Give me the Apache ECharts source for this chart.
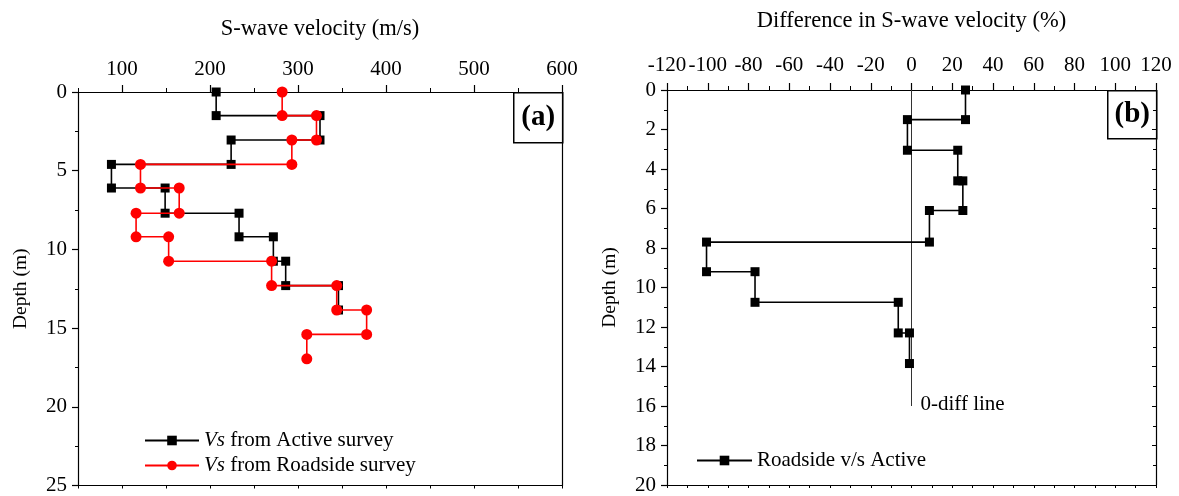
<!DOCTYPE html>
<html>
<head>
<meta charset="utf-8">
<script src="https://cdn.jsdelivr.net/npm/echarts@6/dist/echarts.min.js"></script>
<style>
  html, body { margin: 0; padding: 0; background: #fff; }
  #chart { width: 1179px; height: 496px; }
</style>
</head>
<body>
<div id="chart"></div>
<script>
// Layer boundaries shared by both surveys (m)
const activeDepth = [0, 1.5, 1.5, 3.05, 3.05, 4.6, 4.6, 6.1, 6.1, 7.7, 7.7, 9.2, 9.2, 10.75, 10.75, 12.3, 12.3, 13.85];
const activeVs    = [207, 207, 325, 325, 224, 224, 88, 88, 149, 149, 233, 233, 272, 272, 286, 286, 346, 346];

const roadDepth = [0, 1.5, 1.5, 3.05, 3.05, 4.6, 4.6, 6.1, 6.1, 7.7, 7.7, 9.2, 9.2, 10.75, 10.75, 12.3, 12.3, 13.85, 13.85, 15.4, 15.4, 16.95];
const roadVs    = [282, 282, 321, 321, 293, 293, 121, 121, 165, 165, 116, 116, 153, 153, 270, 270, 344, 344, 378, 378, 310, 310];

const diffDepth = [0, 1.5, 1.5, 3.05, 3.05, 4.6, 4.6, 6.1, 6.1, 7.7, 7.7, 9.2, 9.2, 10.75, 10.75, 12.3, 12.3, 13.85];
const diffPct   = [26.5, 26.5, -2, -2, 22.7, 22.7, 25.2, 25.2, 8.8, 8.8, -100.6, -100.6, -76.8, -76.8, -6.5, -6.5, -1, -1];

// Zero-difference reference line (x = 0 % from 0 to 16 m)
const zeroLineX = [0, 0];
const zeroLineDepth = [0, 16];

// Tick values
const vsMajorTicks = [100, 200, 300, 400, 500, 600];
const vsMinorTicks = [50, 150, 250, 350, 450, 550];

const names = {
  active: 'Vs from Active survey',
  road: 'Vs from Roadside survey',
  diff: 'Roadside v/s Active'
};

const zip = (xs, ys) => xs.map((x, i) => [x, ys[i]]);

const FONT = '"Liberation Serif", "Times New Roman", serif';
const BLACK = '#000';
const tickText = { color: BLACK, fontFamily: FONT, fontSize: 21 };
const titleText = { color: BLACK, fontFamily: FONT, fontSize: 22.5 };
const depthText = { color: BLACK, fontFamily: FONT, fontSize: 19.5 };

const chart = echarts.init(document.getElementById('chart'), null, { renderer: 'canvas' });

const hidden = { show: false };
const blackLine = { show: true, onZero: false, lineStyle: { color: BLACK, width: 1.2 } };

const option = {
  backgroundColor: '#fff',
  animation: false,
  grid: [
    { left: 78, top: 92, width: 484, height: 395, containLabel: false },
    { left: 667, top: 90, width: 489, height: 395, containLabel: false }
  ],
  xAxis: [
    // Panel (a) top axis: labels + major ticks
    {
      gridIndex: 0, type: 'value', position: 'top', min: 50, max: 600,
      axisLine: blackLine,
      axisTick: { show: true, length: 7, customValues: vsMajorTicks, lineStyle: { color: BLACK, width: 1.2 } },
      axisLabel: { ...tickText, margin: 12, customValues: vsMajorTicks },
      splitLine: hidden,
      name: 'S-wave velocity (m/s)', nameLocation: 'middle', nameGap: 51, nameTextStyle: titleText
    },
    // Panel (a) top axis: minor ticks
    {
      gridIndex: 0, type: 'value', position: 'top', min: 50, max: 600,
      axisLine: { show: false, onZero: false },
      axisTick: { show: true, length: 4, customValues: vsMinorTicks, lineStyle: { color: BLACK, width: 1 } },
      axisLabel: hidden, splitLine: hidden
    },
    // Panel (a) bottom frame
    {
      gridIndex: 0, type: 'value', position: 'bottom', min: 50, max: 600, interval: 50,
      axisLine: blackLine,
      axisTick: { show: true, length: 3, lineStyle: { color: BLACK, width: 1 } },
      axisLabel: hidden, splitLine: hidden
    },
    // Panel (b) top axis
    {
      gridIndex: 1, type: 'value', position: 'top', min: -120, max: 120, interval: 20,
      axisLine: blackLine,
      axisTick: { show: true, length: 7, lineStyle: { color: BLACK, width: 1.2 } },
      minorTick: { show: true, splitNumber: 2, length: 4, lineStyle: { color: BLACK, width: 1 } },
      axisLabel: { ...tickText, margin: 14 },
      splitLine: hidden,
      name: 'Difference in S-wave velocity (%)', nameLocation: 'middle', nameGap: 57, nameTextStyle: titleText
    },
    // Panel (b) bottom frame
    {
      gridIndex: 1, type: 'value', position: 'bottom', min: -120, max: 120, interval: 20,
      axisLine: blackLine,
      axisTick: { show: true, length: 3, lineStyle: { color: BLACK, width: 1 } },
      minorTick: { show: true, splitNumber: 2, length: 3, lineStyle: { color: BLACK, width: 1 } },
      axisLabel: hidden, splitLine: hidden
    }
  ],
  yAxis: [
    // Panel (a) depth axis
    {
      gridIndex: 0, type: 'value', position: 'left', inverse: true, min: 0, max: 25, interval: 5,
      axisLine: blackLine,
      axisTick: { show: true, length: 6, lineStyle: { color: BLACK, width: 1.2 } },
      minorTick: { show: true, splitNumber: 2, length: 3, lineStyle: { color: BLACK, width: 1 } },
      axisLabel: { ...tickText, margin: 11 },
      splitLine: hidden,
      name: 'Depth (m)', nameLocation: 'middle', nameGap: 47, nameRotate: 90, nameTextStyle: depthText
    },
    // Panel (a) right frame
    {
      gridIndex: 0, type: 'value', position: 'right', inverse: true, min: 0, max: 25, interval: 5,
      axisLine: blackLine, axisTick: hidden, axisLabel: hidden, splitLine: hidden
    },
    // Panel (b) depth axis
    {
      gridIndex: 1, type: 'value', position: 'left', inverse: true, min: 0, max: 20, interval: 2,
      axisLine: blackLine,
      axisTick: { show: true, length: 6, lineStyle: { color: BLACK, width: 1.2 } },
      minorTick: { show: true, splitNumber: 2, length: 3, lineStyle: { color: BLACK, width: 1 } },
      axisLabel: { ...tickText, margin: 11 },
      splitLine: hidden,
      name: 'Depth (m)', nameLocation: 'middle', nameGap: 47, nameRotate: 90, nameTextStyle: depthText
    },
    // Panel (b) right frame
    {
      gridIndex: 1, type: 'value', position: 'right', inverse: true, min: 0, max: 20, interval: 2,
      axisLine: blackLine,
      axisTick: { show: true, inside: true, length: 4, lineStyle: { color: BLACK, width: 1 } },
      minorTick: { show: true, splitNumber: 2, length: 3, lineStyle: { color: BLACK, width: 1 } },
      axisLabel: hidden, splitLine: hidden
    }
  ],
  legend: [
    {
      data: [names.active, names.road],
      orient: 'vertical', left: 139, top: 425,
      itemWidth: 54, itemHeight: 12, itemGap: 4,
      textStyle: {
        color: BLACK, fontFamily: FONT, fontSize: 21,
        rich: { it: { fontStyle: 'italic', fontFamily: FONT, fontSize: 21, color: BLACK } }
      },
      formatter: n => n.replace(/^Vs/, '{it|Vs}')
    },
    {
      data: [names.diff],
      orient: 'vertical', left: 691, top: 445,
      itemWidth: 55, itemHeight: 12,
      textStyle: { color: BLACK, fontFamily: FONT, fontSize: 21 }
    }
  ],
  series: [
    {
      name: names.active, type: 'line', xAxisIndex: 0, yAxisIndex: 0,
      data: zip(activeVs, activeDepth),
      symbol: 'rect', symbolSize: 9,
      itemStyle: { color: BLACK },
      lineStyle: { color: BLACK, width: 1.6 },
      z: 3
    },
    {
      name: names.road, type: 'line', xAxisIndex: 0, yAxisIndex: 0,
      data: zip(roadVs, roadDepth),
      symbol: 'circle', symbolSize: 11,
      itemStyle: { color: '#ff0000' },
      lineStyle: { color: '#ff0000', width: 1.6 },
      z: 4
    },
    {
      name: '0-diff line', type: 'line', xAxisIndex: 3, yAxisIndex: 2,
      data: zip(zeroLineX, zeroLineDepth),
      symbol: 'none',
      lineStyle: { color: '#333', width: 1 },
      endLabel: {
        show: true, formatter: '0-diff line', distance: 9, offset: [0, -2],
        color: BLACK, fontFamily: FONT, fontSize: 21
      },
      silent: true, z: 2
    },
    {
      name: names.diff, type: 'line', xAxisIndex: 3, yAxisIndex: 2,
      data: zip(diffPct, diffDepth),
      symbol: 'rect', symbolSize: 9,
      itemStyle: { color: BLACK },
      lineStyle: { color: BLACK, width: 1.6 },
      z: 3
    }
  ],
  graphic: [
    {
      type: 'group', left: 513, top: 92,
      children: [
        { type: 'rect', shape: { x: 0, y: 0, width: 49, height: 50 }, style: { fill: '#fff', stroke: BLACK, lineWidth: 1.5 } },
        { type: 'text', style: { text: '(a)', x: 24.5, y: 25, align: 'center', verticalAlign: 'middle', font: 'bold 29px ' + FONT, fill: BLACK } }
      ]
    },
    {
      type: 'group', left: 1107, top: 90,
      children: [
        { type: 'rect', shape: { x: 0, y: 0, width: 49, height: 48 }, style: { fill: '#fff', stroke: BLACK, lineWidth: 1.5 } },
        { type: 'text', style: { text: '(b)', x: 24.5, y: 24, align: 'center', verticalAlign: 'middle', font: 'bold 29px ' + FONT, fill: BLACK } }
      ]
    }
  ]
};

chart.setOption(option);
</script>
</body>
</html>
